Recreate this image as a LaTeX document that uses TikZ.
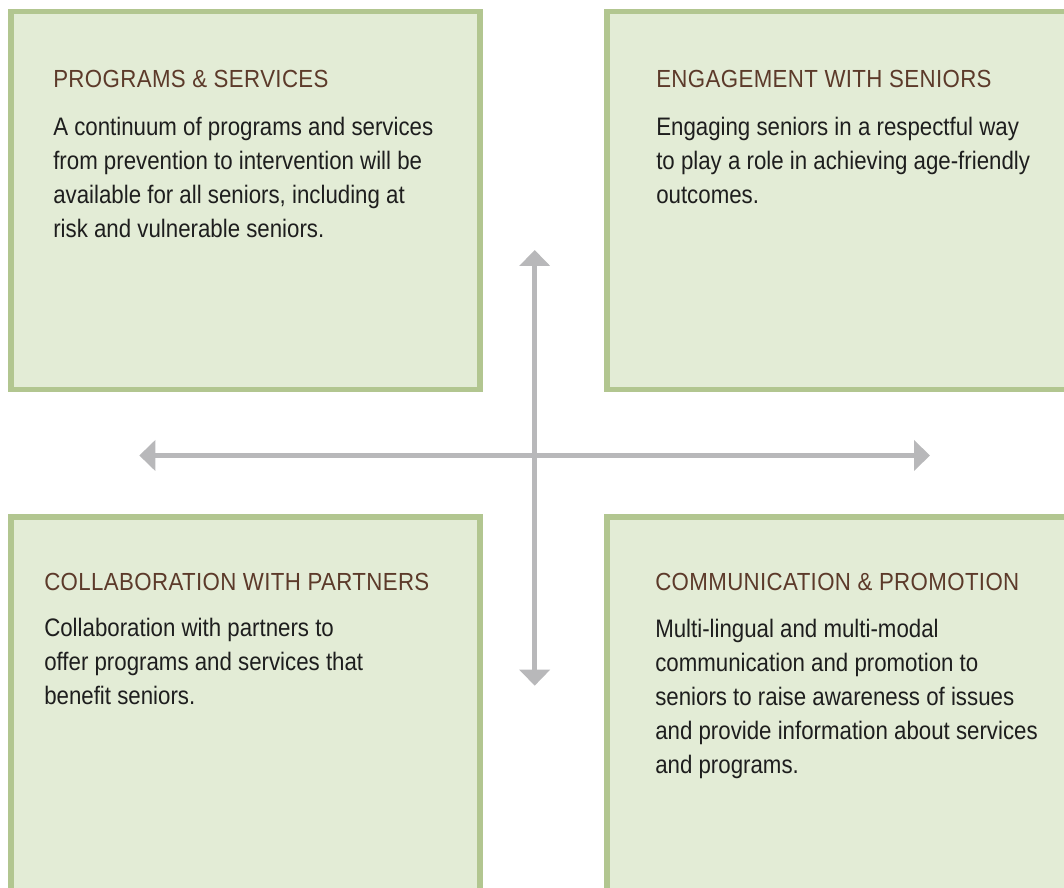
\documentclass[tikz,border=0pt]{standalone}
\usepackage{xcolor}
\usepackage{fontspec}
\setmainfont{Liberation Sans}[FakeStretch=0.88]
\newfontfamily\headfont{Liberation Sans}[FakeStretch=0.9,LetterSpace=1.5]
\usepackage{tikz}
\usetikzlibrary{arrows.meta}
\usetikzlibrary{positioning}
\definecolor{boxfill}{HTML}{E3ECD6}
\definecolor{boxline}{HTML}{B2C690}
\definecolor{titlebrown}{HTML}{5C3A2A}
\definecolor{textdark}{HTML}{1E1E1E}
\definecolor{arrowgray}{HTML}{B8B8BA}
\tikzset{
    mybox/.style = {rectangle, draw=boxline, fill=boxfill, line width=0.14cm, minimum width=11.725cm, minimum height=9.45cm, inner sep=0pt},
    mytitle/.style = {anchor=base west, inner sep=0pt, text=titlebrown, font=\headfont\fontsize{17.6}{24.2}\selectfont},
    mytext/.style = {anchor=north west, inner sep=0pt, align=left, text=textdark, font=\fontsize{18}{24.2}\selectfont},
}

\begin{document}
\begin{tikzpicture}[
	edgeg/.style = {{Triangle[length=0.4cm,width=0.75cm]}-{Triangle[length=0.4cm,width=0.75cm]}, line width=0.125cm, arrowgray}
]
\path[use as bounding box, clip] (0,0) rectangle (26.6,22.2);
%
\node[mybox] at (6.1375,17.1875) (prog) {};
\node[mybox, minimum width=12.0825cm] at (21.209,17.1875) (eng) {};
\node[mybox, minimum height=9.5825cm] at (6.1375,4.49) (coll) {};
\node[mybox, minimum width=12.0825cm, minimum height=9.5825cm] at (21.209,4.49) (comm) {};
%
\node[mytitle] at (1.325,20.0) (progt) {PROGRAMS \& SERVICES};
\node[mytext] at (1.325,19.29) (progb) {A continuum of programs and services\\from prevention to intervention will be\\available for all seniors, including at\\risk and vulnerable seniors.};
%
\node[mytitle] at (16.4,20.0) (engt) {ENGAGEMENT WITH SENIORS};
\node[mytext] at (16.4,19.29) (engb) {Engaging seniors in a respectful way\\to play a role in achieving age-friendly\\outcomes.};
%
\node[mytitle] at (1.1,7.425) (collt) {COLLABORATION WITH PARTNERS};
\node[mytext] at (1.1,6.765) (collb) {Collaboration with partners to\\offer programs and services that\\benefit seniors.};
%
\node[mytitle] at (16.375,7.425) (commt) {COMMUNICATION \& PROMOTION};
\node[mytext] at (16.375,6.74) (commb) {Multi-lingual and multi-modal\\communication and promotion to\\seniors to raise awareness of issues\\and provide information about services\\and programs.};
%
\coordinate (up) at (13.3675,15.95);
\coordinate (down) at (13.3675,5.0575);
\coordinate (left) at (3.4825,10.8125);
\coordinate (right) at (23.25,10.8125);
\draw[edgeg] (left) -- (right);
\draw[edgeg] (down) -- (up);
\end{tikzpicture}
\end{document}
